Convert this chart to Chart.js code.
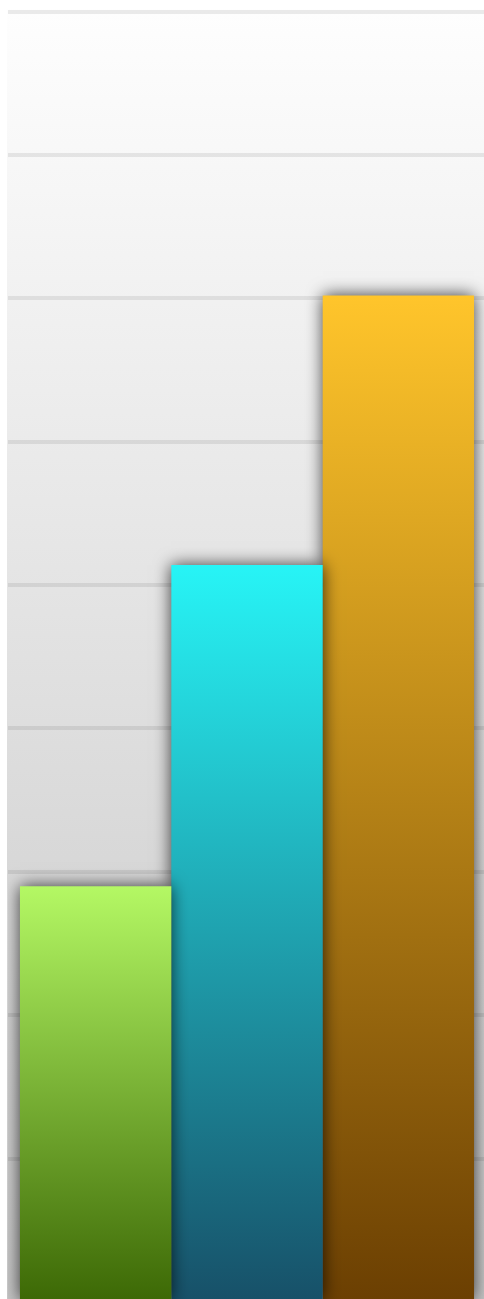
<!DOCTYPE html>
<html>
<head>
<meta charset="utf-8">
<script src="https://cdn.jsdelivr.net/npm/chart.js@4/dist/chart.umd.min.js"></script>
<style>
html,body{margin:0;padding:0;background:#ffffff;overflow:hidden;width:484px;height:1299px;}
#wrap{position:absolute;left:0;top:0;width:486px;height:1302px;}
</style>
</head>
<body>
<div id="wrap"><canvas id="c" width="486" height="1302"></canvas></div>
<script>
const categories = [''];
const seriesNames = ['A', 'B', 'C'];
const seriesValues = [29, 51.4, 70.2];
const topColors = ['#b4f864', '#27f4f6', '#ffc52b'];
const bottomColors = ['#3c6805', '#175068', '#6b3f02'];
const yMax = 90;
const yStep = 10;

function barGradient(i) {
  return function (context) {
    const chart = context.chart;
    const area = chart.chartArea;
    if (!area) return topColors[i];
    const y = chart.scales.y;
    const top = y.getPixelForValue(seriesValues[i]);
    const g = chart.ctx.createLinearGradient(0, top, 0, area.bottom);
    g.addColorStop(0, topColors[i]);
    g.addColorStop(1, bottomColors[i]);
    return g;
  };
}

const bgPlugin = {
  id: 'bg',
  beforeDraw(chart) {
    const ctx = chart.ctx, a = chart.chartArea;
    const g = ctx.createLinearGradient(0, a.top, 0, a.bottom);
    g.addColorStop(0, '#fefefe');
    g.addColorStop(1, '#c4c4c4');
    ctx.save();
    ctx.fillStyle = g;
    ctx.fillRect(a.left - 1, a.top - 2, chart.width - a.left + 1, a.bottom - a.top + 2);
    ctx.restore();
  }
};

const shadowPlugin = {
  id: 'shadow',
  beforeDatasetDraw(chart) {
    const ctx = chart.ctx;
    ctx.save();
    ctx.shadowColor = 'rgba(0,0,0,0.75)';
    ctx.shadowBlur = 16;
    ctx.shadowOffsetX = 0;
    ctx.shadowOffsetY = 0;
  },
  afterDatasetDraw(chart) {
    chart.ctx.restore();
  }
};

new Chart(document.getElementById('c'), {
  type: 'bar',
  data: {
    labels: categories,
    datasets: seriesNames.map((n, i) => ({
      label: n,
      data: [seriesValues[i]],
      backgroundColor: barGradient(i),
      borderWidth: 0,
      categoryPercentage: 0.95,
      barPercentage: 1
    }))
  },
  options: {
    responsive: false,
    animation: false,
    layout: { padding: { left: 8, right: 0, top: 11.5, bottom: 0 } },
    plugins: { legend: { display: false }, tooltip: { enabled: false } },
    scales: {
      x: { display: false },
      y: {
        min: 0, max: yMax,
        ticks: { display: false, stepSize: yStep },
        grid: { color: 'rgba(0,0,0,0.08)', lineWidth: 4, drawTicks: false },
        border: { display: false }
      }
    }
  },
  plugins: [bgPlugin, shadowPlugin]
});
</script>
</body>
</html>
